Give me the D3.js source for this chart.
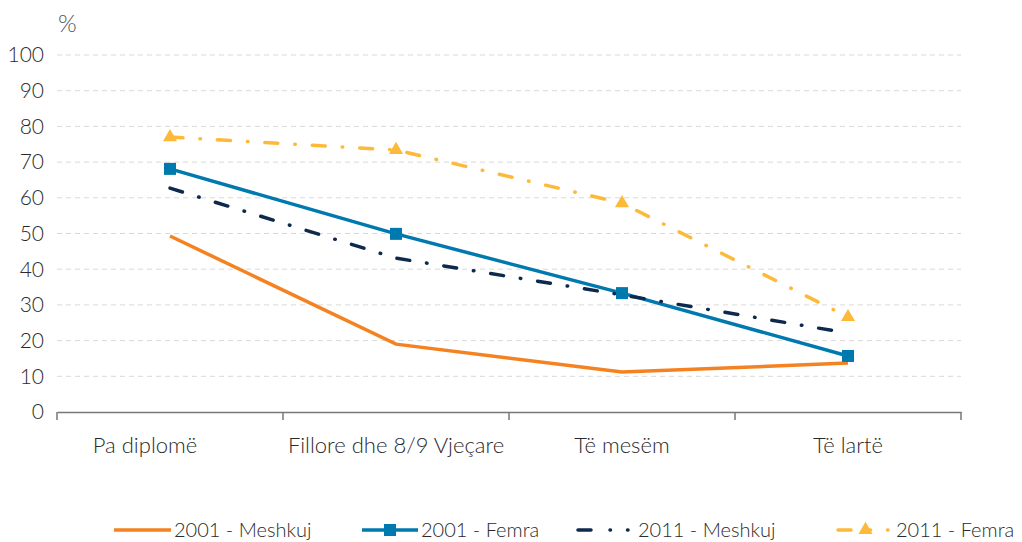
<!DOCTYPE html>
<html>
<head>
<meta charset="utf-8">
<script src="https://cdn.jsdelivr.net/npm/d3@7"></script>
<style>
  body { margin: 0; background: #fff; }
  svg text { font-family: Lato, "Open Sans", sans-serif; font-weight: 300; fill: #2a2a2a; }
</style>
</head>
<body>
<svg id="chart" width="1022" height="542"></svg>
<script>
const categories = ["Pa diplomë", "Fillore dhe 8/9 Vjeçare", "Të mesëm", "Të lartë"];
const yTicks = [0, 10, 20, 30, 40, 50, 60, 70, 80, 90, 100];
const men2001 = [49.3, 19.0, 11.2, 13.7];
const women2001 = [68.1, 49.9, 33.3, 15.7];
const men2011 = [62.7, 43.1, 32.8, 22.1];
const women2011 = [77.0, 73.4, 58.5, 26.6];

const series = [
  { name: "2001 - Meshkuj", values: men2001, color: "#F58220", dash: null, marker: null },
  { name: "2001 - Femra", values: women2001, color: "#0079AE", dash: null, marker: "square" },
  { name: "2011 - Meshkuj", values: men2011, color: "#0D2A4D", dash: "13,17,0.5,17", marker: null },
  { name: "2011 - Femra", values: women2011, color: "#FDB93A", dash: "13,17,0.5,17", marker: "triangle" }
];

const svg = d3.select("#chart");
const margin = { top: 55, right: 61, bottom: 130, left: 57 };
const width = 1022 - margin.left - margin.right;
const height = 542 - margin.top - margin.bottom;

const g = svg.append("g").attr("transform", `translate(${margin.left},${margin.top})`);

const x = d3.scaleBand().domain(categories).range([0, width]);
const y = d3.scaleLinear().domain([0, 100]).range([height, 0]);
const cx = d => x(d) + x.bandwidth() / 2;

// gridlines
g.selectAll(".grid")
  .data(yTicks.filter(t => t > 0))
  .enter().append("line")
  .attr("x1", 0).attr("x2", width)
  .attr("y1", d => y(d)).attr("y2", d => y(d))
  .attr("stroke", "#d9d9d9")
  .attr("stroke-width", 1)
  .attr("stroke-dasharray", "5,4");

// y labels
g.selectAll(".ylab")
  .data(yTicks)
  .enter().append("text")
  .attr("x", -13)
  .attr("y", d => y(d))
  .attr("dy", "0.35em")
  .attr("text-anchor", "end")
  .style("font-size", "21px")
  .text(d => d);

g.append("text")
  .attr("x", 1).attr("y", -23)
  .style("font-size", "24px")
  .style("fill", "#555")
  .text("%");

// x axis
const xAxis = g.append("g")
  .attr("transform", `translate(0,${height})`)
  .call(d3.axisBottom(x).tickSize(0).tickPadding(25));
xAxis.select(".domain").attr("stroke", "#777").attr("stroke-width", 1.5);
xAxis.selectAll("text")
  .style("font-size", "22px")
  .style("font-family", "Lato, 'Open Sans', sans-serif")
  .style("font-weight", 300)
  .attr("fill", "#2a2a2a")
  .attr("dx", (d, i) => i === 0 ? -25 : 0);
const bounds = categories.map(c => x(c)).concat([width]);
xAxis.selectAll(".sep")
  .data(bounds)
  .enter().append("line")
  .attr("x1", d => d).attr("x2", d => d)
  .attr("y1", 0).attr("y2", 8)
  .attr("stroke", "#777").attr("stroke-width", 1.5);

// lines
const line = d3.line()
  .x((d, i) => cx(categories[i]))
  .y(d => y(d));

series.forEach(s => {
  g.append("path")
    .datum(s.values)
    .attr("d", line)
    .attr("fill", "none")
    .attr("stroke", s.color)
    .attr("stroke-width", 3.5)
    .attr("stroke-linecap", s.dash ? "round" : "butt")
    .attr("stroke-dasharray", s.dash);
});

function drawMarker(sel, type, color, px, py, size) {
  if (type === "square") {
    sel.append("rect")
      .attr("x", px - size / 2).attr("y", py - size / 2)
      .attr("width", size).attr("height", size)
      .attr("fill", color);
  } else if (type === "triangle") {
    sel.append("path")
      .attr("d", d3.symbol().type(d3.symbolTriangle).size(size * size * 0.6)())
      .attr("transform", `translate(${px},${py})`)
      .attr("fill", color);
  }
}

series.forEach(s => {
  if (!s.marker) return;
  s.values.forEach((v, i) => drawMarker(g, s.marker, s.color, cx(categories[i]), y(v), 12));
});

// legend
const legendItems = [
  { x0: 114, x1: 171 },
  { x0: 362, x1: 418 },
  { x0: 578, x1: 635 },
  { x0: 838, x1: 893 }
];
const ly = 530;
const legend = svg.append("g");
series.forEach((s, i) => {
  const it = legendItems[i];
  legend.append("line")
    .attr("x1", it.x0).attr("x2", it.x1)
    .attr("y1", ly).attr("y2", ly)
    .attr("stroke", s.color)
    .attr("stroke-width", 3.5)
    .attr("stroke-linecap", s.dash ? "round" : "butt")
    .attr("stroke-dasharray", s.dash ? "13,19,0.5,17,0.5,30" : null);
  drawMarker(legend, s.marker, s.color, (it.x0 + it.x1) / 2, ly, 12);
  legend.append("text")
    .attr("x", it.x1 + 3).attr("y", ly)
    .attr("dy", "0.35em")
    .style("font-size", "20px")
    .text(s.name);
});
</script>
</body>
</html>
